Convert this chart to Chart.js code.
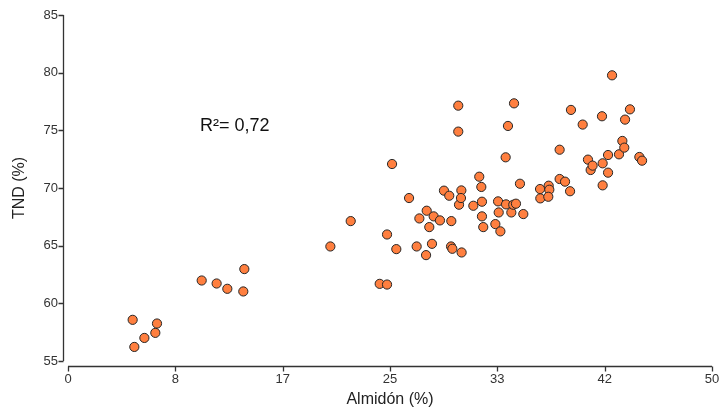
<!DOCTYPE html>
<html>
<head>
<meta charset="utf-8">
<script src="https://cdn.jsdelivr.net/npm/chart.js@4/dist/chart.umd.min.js"></script>
<style>
  html, body { margin: 0; padding: 0; background: #ffffff; }
  #wrap { width: 722px; height: 417px; position: relative; }
</style>
</head>
<body>
<div id="wrap"><canvas id="c" width="722" height="417"></canvas></div>
<script>
// Almidón (%) values
const almidon = [
  5.02, 5.15, 5.93, 6.78, 6.91, 10.38, 11.54, 12.37, 13.61, 13.69,
  20.37, 21.95, 24.20, 24.77, 24.77, 25.16, 25.49, 26.48, 27.07, 27.28,
  27.85, 27.80, 28.05, 28.26, 28.39, 28.88, 29.19, 29.60, 29.76, 29.74,
  29.84, 30.30, 30.30, 30.36, 30.54, 30.51, 30.56, 31.47, 31.93, 32.09,
  32.14, 32.14, 32.24, 33.18, 33.39, 33.44, 33.57, 33.98, 34.01, 34.16,
  34.42, 34.57, 34.63, 34.78, 35.09, 35.35, 36.65, 36.67, 37.32, 37.37,
  37.29, 38.17, 38.17, 38.59, 38.98, 39.05, 39.96, 40.37, 40.58, 40.73,
  41.46, 41.51, 41.51, 41.93, 41.93, 42.24, 42.78, 43.04, 43.19, 43.25,
  43.63, 44.36, 44.57
];
// TND (%) values
const tnd = [
  58.57, 56.22, 57.00, 57.44, 58.25, 61.98, 61.72, 61.26, 61.03, 62.97,
  64.93, 67.13, 61.69, 61.63, 65.97, 72.08, 64.70, 69.13, 64.93, 67.36,
  68.03, 64.18, 66.61, 65.16, 67.54, 67.19, 69.77, 69.33, 67.13, 64.93,
  64.73, 77.14, 74.89, 68.55, 69.79, 69.13, 64.41, 68.46, 70.98, 70.09,
  68.81, 67.54, 66.61, 66.87, 68.84, 67.88, 66.24, 72.66, 68.58, 75.38,
  67.88, 68.55, 77.34, 68.64, 70.37, 67.74, 69.91, 69.10, 70.20, 69.85,
  69.24, 73.32, 70.78, 70.55, 69.72, 76.77, 75.50, 72.46, 71.56, 71.94,
  76.22, 72.14, 70.23, 72.86, 71.33, 79.77, 72.92, 74.08, 73.50, 75.93,
  76.82, 72.69, 72.37
];
const xTickLabels = ['0', '8', '17', '25', '33', '42', '50'];
const yTickValues = [55, 60, 65, 70, 75, 80, 85];
const annotationText = 'R\u00B2= 0,72';
const annotationPos = { x: 10.25, y: 75.5 };

const points = almidon.map((x, i) => ({ x: x, y: tnd[i] }));

const axisColor = '#333333';
const fontFam = '"Liberation Sans", Arial, sans-serif';

const detachedAxes = {
  id: 'detachedAxes',
  afterDraw(chart) {
    const ctx = chart.ctx;
    const xs = chart.scales.x, ys = chart.scales.y;
    const area = chart.chartArea;
    const gap = 5, tl = 5;
    ctx.save();
    ctx.strokeStyle = axisColor;
    ctx.lineWidth = 1.3;
    // y axis
    const yx = Math.round(area.left - gap) + 0.5;
    ctx.beginPath();
    ctx.moveTo(yx, ys.getPixelForValue(85));
    ctx.lineTo(yx, ys.getPixelForValue(55));
    ys.ticks.forEach(t => {
      const py = Math.round(ys.getPixelForValue(t.value)) + 0.5;
      ctx.moveTo(yx, py);
      ctx.lineTo(yx - tl, py);
    });
    ctx.stroke();
    // x axis
    const xy = Math.round(area.bottom + gap) + 0.5;
    ctx.beginPath();
    ctx.moveTo(xs.getPixelForValue(0), xy);
    ctx.lineTo(xs.getPixelForValue(50), xy);
    xs.ticks.forEach(t => {
      const px = Math.round(xs.getPixelForValue(t.value)) + 0.5;
      ctx.moveTo(px, xy);
      ctx.lineTo(px, xy + tl);
    });
    ctx.stroke();
    // annotation
    ctx.fillStyle = '#111111';
    ctx.font = '18px ' + fontFam;
    ctx.textAlign = 'left';
    ctx.textBaseline = 'alphabetic';
    ctx.fillText(annotationText, xs.getPixelForValue(annotationPos.x), ys.getPixelForValue(annotationPos.y) + 6);
    ctx.restore();
  }
};

new Chart(document.getElementById('c'), {
  type: 'scatter',
  data: {
    datasets: [{
      label: 'TND',
      data: points,
      backgroundColor: '#FF7F3F',
      borderColor: '#262626',
      borderWidth: 1,
      pointRadius: 4.6,
      pointHoverRadius: 4.6
    }]
  },
  options: {
    responsive: false,
    animation: false,
    layout: { padding: { top: 15, right: 10, left: 0, bottom: 0 } },
    plugins: { legend: { display: false }, tooltip: { enabled: false } },
    scales: {
      x: {
        type: 'linear',
        min: 0,
        max: 50,
        afterBuildTicks(scale) {
          scale.ticks = xTickLabels.map((l, i) => ({ value: i * 50 / 6 }));
        },
        afterFit(scale) { scale.height = 56; scale.paddingLeft = 0; scale.paddingRight = 0; },
        grid: { display: false, drawTicks: false },
        border: { display: false },
        ticks: {
          padding: 11,
          color: '#333333',
          font: { size: 13, family: fontFam },
          maxRotation: 0,
          autoSkip: false,
          callback: (v, i) => xTickLabels[i]
        },
        title: {
          display: true,
          text: 'Almidón (%)',
          color: '#222222',
          font: { size: 16, family: fontFam },
          padding: { top: 0, bottom: 8 }
        }
      },
      y: {
        type: 'linear',
        min: 55,
        max: 85,
        afterBuildTicks(scale) {
          scale.ticks = yTickValues.map(v => ({ value: v }));
        },
        afterFit(scale) { scale.width = 68; scale.paddingTop = 0; scale.paddingBottom = 0; },
        grid: { display: false, drawTicks: false },
        border: { display: false },
        ticks: {
          padding: 10,
          color: '#333333',
          font: { size: 13, family: fontFam },
          autoSkip: false,
          callback: v => String(v)
        },
        title: {
          display: true,
          text: 'TND (%)',
          color: '#222222',
          font: { size: 16, family: fontFam },
          padding: { top: 10, bottom: 0 }
        }
      }
    }
  },
  plugins: [detachedAxes]
});
</script>
</body>
</html>
